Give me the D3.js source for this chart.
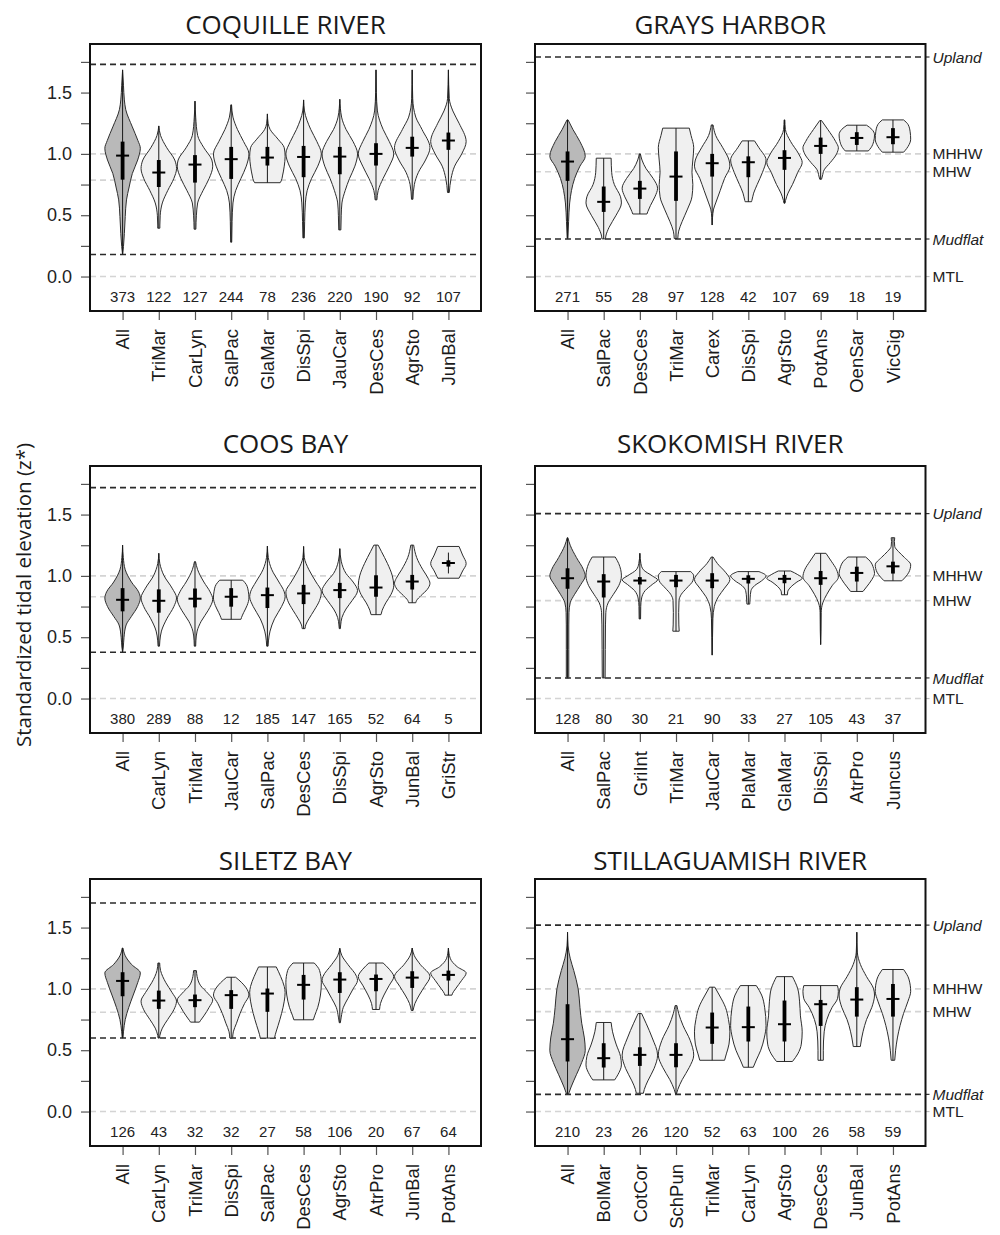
<!DOCTYPE html>
<html><head><meta charset="utf-8">
<script src="https://cdn.jsdelivr.net/npm/d3@7"></script>
<style>body{margin:0;background:#fff}svg{display:block}</style>
</head><body>
<svg id="chart" width="1000" height="1235"></svg>
<script>
// ---------------- DATA ----------------
// shared tidal datums (standardized): MHHW = 1, MTL = 0
const mhhw = 1.0, mtl = 0.0;

// COQUILLE RIVER
const coqCats = ["All","TriMar","CarLyn","SalPac","GlaMar","DisSpi","JauCar","DesCes","AgrSto","JunBal"];
const coqN = [373,122,127,244,78,236,220,190,92,107];
const coqBox = [[0.79,0.986,1.10],[0.73,0.848,0.95],[0.766,0.913,0.99],[0.796,0.957,1.057],[0.905,0.97,1.057],
  [0.81,0.975,1.065],[0.834,0.978,1.057],[0.905,1.0,1.087],[0.978,1.049,1.14],[1.033,1.109,1.174]];
const coqShape = [
  [[1.685,0],[1.56,0.05],[1.44,0.1],[1.36,0.18],[1.22,0.55],[1.11,0.86],[1.046,1.0],[0.95,0.85],[0.84,0.55],[0.73,0.37],[0.625,0.22],[0.49,0.15],[0.35,0.1],[0.245,0.05],[0.177,0]],
  [[1.228,0],[1.15,0.1],[1.05,0.45],[0.95,0.9],[0.88,1.0],[0.8,0.85],[0.7,0.5],[0.6,0.2],[0.5,0.08],[0.42,0.06],[0.394,0.06]],
  [[1.43,0],[1.3,0.04],[1.15,0.15],[1.05,0.5],[0.95,0.95],[0.9,1.0],[0.8,0.8],[0.7,0.45],[0.6,0.15],[0.5,0.08],[0.386,0.05]],
  [[1.40,0.02],[1.3,0.1],[1.2,0.35],[1.1,0.7],[1.0,1.0],[0.9,0.85],[0.8,0.55],[0.7,0.25],[0.6,0.1],[0.45,0.05],[0.28,0.03]],
  [[1.326,0],[1.25,0.04],[1.2,0.15],[1.12,0.6],[1.05,0.95],[0.98,1.0],[0.9,0.95],[0.82,0.85],[0.78,0.78],[0.765,0.72]],
  [[1.44,0],[1.35,0.05],[1.2,0.4],[1.1,0.75],[1.0,1.0],[0.9,0.8],[0.8,0.45],[0.7,0.2],[0.6,0.1],[0.45,0.06],[0.315,0.04]],
  [[1.445,0],[1.3,0.1],[1.2,0.35],[1.1,0.75],[1.0,1.0],[0.9,0.85],[0.8,0.55],[0.7,0.3],[0.6,0.12],[0.5,0.08],[0.38,0.06]],
  [[1.685,0],[1.5,0.02],[1.35,0.08],[1.2,0.4],[1.1,0.75],[1.0,1.0],[0.9,0.75],[0.8,0.4],[0.7,0.12],[0.625,0.05]],
  [[1.685,0],[1.45,0.03],[1.3,0.2],[1.2,0.55],[1.05,1.0],[0.95,0.75],[0.85,0.35],[0.75,0.12],[0.63,0.04]],
  [[1.685,0],[1.45,0.05],[1.35,0.25],[1.25,0.6],[1.1,1.0],[1.0,0.75],[0.9,0.35],[0.8,0.15],[0.685,0.05]]
];
const coqLines = [1.73, 0.18, 0.786]; // Upland, Mudflat, MHW

// GRAYS HARBOR
const grayCats = ["All","SalPac","DesCes","TriMar","Carex","DisSpi","AgrSto","PotAns","OenSar","VicGig"];
const grayN = [271,55,28,97,128,42,107,69,18,19];
const grayBox = [[0.78,0.9375,1.02],[0.527,0.609,0.734],[0.633,0.717,0.78],[0.617,0.815,1.02],[0.815,0.924,1.0],
  [0.81,0.932,0.98],[0.87,0.967,1.03],[1.0,1.065,1.133],[1.073,1.13,1.177],[1.079,1.136,1.21]];
const grayShape = [
  [[1.277,0.03],[1.2,0.3],[1.1,0.7],[0.98,1.0],[0.9,0.7],[0.8,0.4],[0.7,0.22],[0.6,0.12],[0.45,0.06],[0.31,0.02]],
  [[0.965,0.42],[0.85,0.45],[0.75,0.6],[0.65,0.95],[0.6,1.0],[0.5,0.7],[0.4,0.3],[0.33,0.12],[0.307,0.1]],
  [[1.0,0.03],[0.95,0.12],[0.88,0.35],[0.8,0.75],[0.72,1.0],[0.65,0.85],[0.58,0.6],[0.53,0.45],[0.51,0.4]],
  [[1.21,0.75],[1.15,0.85],[1.05,1.0],[0.95,0.95],[0.85,0.9],[0.75,0.95],[0.65,0.9],[0.55,0.65],[0.45,0.35],[0.37,0.15],[0.31,0.1]],
  [[1.236,0.05],[1.15,0.2],[1.05,0.6],[0.95,0.95],[0.9,1.0],[0.8,0.7],[0.7,0.45],[0.6,0.2],[0.55,0.08],[0.48,0.02],[0.42,0]],
  [[1.106,0.35],[1.05,0.6],[0.95,1.0],[0.85,0.8],[0.75,0.5],[0.68,0.3],[0.62,0.2],[0.61,0.18]],
  [[1.277,0.02],[1.2,0.05],[1.1,0.35],[1.0,0.8],[0.93,1.0],[0.85,0.75],[0.75,0.45],[0.68,0.2],[0.62,0.06],[0.598,0.03]],
  [[1.272,0.05],[1.2,0.4],[1.1,0.85],[1.05,1.0],[1.0,0.9],[0.93,0.55],[0.87,0.2],[0.82,0.1],[0.793,0.05]],
  [[1.234,0.55],[1.2,0.85],[1.155,1.0],[1.1,0.95],[1.05,0.8],[1.024,0.65]],
  [[1.277,0.6],[1.24,0.85],[1.18,0.97],[1.12,1.0],[1.06,0.85],[1.03,0.7],[1.014,0.6]]
];
const grayLines = [1.79, 0.306, 0.854];

// COOS BAY
const coosCats = ["All","CarLyn","TriMar","JauCar","SalPac","DesCes","DisSpi","AgrSto","JunBal","GriStr"];
const coosN = [380,289,88,12,185,147,165,52,64,5];
const coosBox = [[0.711,0.805,0.9],[0.7,0.797,0.89],[0.743,0.814,0.897],[0.749,0.83,0.9],[0.738,0.843,0.905],
  [0.77,0.857,0.927],[0.819,0.884,0.943],[0.83,0.905,1.005],[0.889,0.954,1.008],[1.076,1.105,1.127]];
const coosShape = [
  [[1.251,0],[1.15,0.04],[1.05,0.15],[0.95,0.5],[0.87,0.9],[0.82,1.0],[0.75,0.85],[0.67,0.5],[0.6,0.2],[0.5,0.08],[0.42,0.04],[0.378,0]],
  [[1.184,0],[1.1,0.06],[1.0,0.3],[0.9,0.75],[0.82,1.0],[0.75,0.85],[0.65,0.45],[0.55,0.15],[0.47,0.06],[0.427,0.04]],
  [[1.116,0.03],[1.05,0.15],[0.95,0.5],[0.87,0.85],[0.81,1.0],[0.72,0.75],[0.63,0.35],[0.55,0.12],[0.47,0.05],[0.427,0.04]],
  [[0.965,0.65],[0.93,0.85],[0.87,0.97],[0.82,1.0],[0.76,0.9],[0.7,0.7],[0.66,0.58],[0.646,0.55]],
  [[1.243,0],[1.15,0.05],[1.05,0.25],[0.95,0.65],[0.87,0.95],[0.83,1.0],[0.75,0.8],[0.65,0.4],[0.55,0.15],[0.47,0.06],[0.427,0.04]],
  [[1.24,0],[1.15,0.04],[1.05,0.3],[0.95,0.7],[0.87,1.0],[0.8,0.9],[0.72,0.6],[0.65,0.3],[0.6,0.12],[0.57,0.08]],
  [[1.222,0],[1.12,0.08],[1.02,0.35],[0.95,0.75],[0.88,1.0],[0.8,0.7],[0.73,0.35],[0.66,0.12],[0.6,0.05],[0.57,0.03]],
  [[1.251,0.12],[1.2,0.3],[1.1,0.65],[1.0,0.92],[0.92,1.0],[0.85,0.85],[0.78,0.55],[0.72,0.35],[0.684,0.28]],
  [[1.251,0.08],[1.15,0.25],[1.05,0.6],[0.98,0.9],[0.94,1.0],[0.89,0.85],[0.84,0.5],[0.8,0.25],[0.781,0.2]],
  [[1.24,0.6],[1.17,0.8],[1.1,1.0],[1.04,0.8],[0.981,0.6]]
];
const coosWhisk = [null,null,null,null,null,null,null,null,null,[1.02,1.19]];
const coosLines = [1.72, 0.378, 0.83];

// SKOKOMISH RIVER
const skoCats = ["All","SalPac","GriInt","TriMar","JauCar","PlaMar","GlaMar","DisSpi","AtrPro","Juncus"];
const skoN = [128,80,30,21,90,33,27,105,43,37];
const skoBox = [[0.895,0.981,1.062],[0.824,0.954,1.014],[0.93,0.962,0.99],[0.908,0.962,1.008],[0.9,0.962,1.022],
  [0.938,0.976,1.005],[0.94,0.976,1.008],[0.927,0.981,1.04],[0.954,1.024,1.075],[1.019,1.078,1.116]];
const skoShape = [
  [[1.311,0.02],[1.25,0.15],[1.15,0.5],[1.05,0.9],[1.0,1.0],[0.93,0.75],[0.85,0.4],[0.78,0.15],[0.7,0.08],[0.6,0.07],[0.4,0.07],[0.168,0.07]],
  [[1.154,0.65],[1.1,0.85],[1.0,1.0],[0.92,0.85],[0.85,0.55],[0.78,0.25],[0.7,0.12],[0.6,0.1],[0.4,0.09],[0.168,0.08]],
  [[1.184,0],[1.1,0.06],[1.05,0.2],[1.0,0.7],[0.968,1.0],[0.93,0.7],[0.88,0.3],[0.82,0.1],[0.75,0.05],[0.649,0.04]],
  [[1.035,0.83],[1.0,1.0],[0.96,0.95],[0.9,0.6],[0.85,0.3],[0.8,0.17],[0.7,0.15],[0.6,0.16],[0.549,0.18]],
  [[1.154,0.05],[1.1,0.3],[1.03,0.75],[0.97,1.0],[0.9,0.7],[0.83,0.35],[0.75,0.12],[0.65,0.04],[0.5,0.02],[0.354,0]],
  [[1.035,0.6],[1.0,1.0],[0.96,0.75],[0.92,0.35],[0.88,0.15],[0.82,0.1],[0.77,0.08]],
  [[1.04,0.35],[1.01,0.75],[0.98,1.0],[0.95,0.7],[0.9,0.3],[0.87,0.18],[0.846,0.17]],
  [[1.184,0.3],[1.12,0.6],[1.05,0.9],[0.99,1.0],[0.92,0.65],[0.85,0.35],[0.78,0.12],[0.7,0.03],[0.55,0.02],[0.44,0]],
  [[1.154,0.5],[1.12,0.75],[1.06,0.95],[1.02,1.0],[0.97,0.85],[0.91,0.55],[0.873,0.35]],
  [[1.311,0.1],[1.28,0.08],[1.24,0.1],[1.2,0.3],[1.15,0.65],[1.09,1.0],[1.03,0.9],[0.99,0.7],[0.96,0.5]]
];
const skoLines = [1.508, 0.168, 0.798];

// SILETZ BAY
const silCats = ["All","CarLyn","TriMar","DisSpi","SalPac","DesCes","AgrSto","AtrPro","JunBal","PotAns"];
const silN = [126,43,32,32,27,58,106,20,67,64];
const silBox = [[0.94,1.065,1.136],[0.837,0.905,0.986],[0.851,0.908,0.954],[0.837,0.949,0.99],[0.813,0.962,1.003],
  [0.913,1.033,1.114],[0.967,1.076,1.136],[0.981,1.081,1.117],[1.008,1.092,1.144],[1.068,1.114,1.149]];
const silShape = [
  [[1.333,0.02],[1.27,0.15],[1.2,0.5],[1.13,1.0],[1.05,0.85],[0.95,0.6],[0.85,0.35],[0.75,0.15],[0.65,0.05],[0.6,0.02]],
  [[1.211,0.05],[1.15,0.1],[1.05,0.4],[0.97,0.75],[0.9,1.0],[0.83,0.85],[0.75,0.5],[0.68,0.2],[0.62,0.06],[0.599,0.04]],
  [[1.149,0.08],[1.1,0.12],[1.03,0.3],[0.96,0.75],[0.91,1.0],[0.85,0.8],[0.78,0.5],[0.74,0.3],[0.729,0.25]],
  [[1.095,0.25],[1.05,0.6],[0.98,0.95],[0.95,1.0],[0.88,0.75],[0.8,0.5],[0.72,0.3],[0.65,0.12],[0.599,0.08]],
  [[1.179,0.5],[1.1,0.75],[1.02,0.95],[0.97,1.0],[0.9,0.95],[0.8,0.8],[0.7,0.6],[0.63,0.45],[0.599,0.4]],
  [[1.211,0.6],[1.15,0.9],[1.05,1.0],[0.95,0.95],[0.85,0.8],[0.78,0.62],[0.748,0.55]],
  [[1.331,0],[1.27,0.12],[1.2,0.45],[1.1,0.95],[1.07,1.0],[1.0,0.75],[0.92,0.45],[0.85,0.2],[0.77,0.08],[0.724,0.03]],
  [[1.211,0.4],[1.16,0.75],[1.1,1.0],[1.03,0.75],[0.95,0.45],[0.88,0.25],[0.832,0.2]],
  [[1.333,0],[1.27,0.12],[1.2,0.45],[1.1,1.0],[1.02,0.7],[0.95,0.4],[0.88,0.15],[0.824,0.05]],
  [[1.333,0],[1.25,0.1],[1.18,0.5],[1.13,1.0],[1.07,0.75],[1.0,0.4],[0.96,0.22],[0.949,0.2]]
];
const silLines = [1.70, 0.60, 0.81];

// STILLAGUAMISH RIVER
const stiCats = ["All","BolMar","CotCor","SchPun","TriMar","CarLyn","AgrSto","DesCes","JunBal","PotAns"];
const stiN = [210,23,26,120,52,63,100,26,58,59];
const stiBox = [[0.408,0.59,0.875],[0.359,0.435,0.557],[0.372,0.462,0.524],[0.361,0.462,0.557],[0.552,0.685,0.807],
  [0.571,0.688,0.856],[0.571,0.712,0.905],[0.698,0.875,0.91],[0.774,0.913,1.014],[0.774,0.918,1.04]];
const stiShape = [
  [[1.462,0],[1.35,0.03],[1.25,0.15],[1.15,0.35],[1.0,0.6],[0.85,0.7],[0.72,0.8],[0.6,0.95],[0.5,1.0],[0.4,0.8],[0.3,0.5],[0.2,0.2],[0.141,0.05]],
  [[0.726,0.42],[0.65,0.5],[0.55,0.7],[0.45,0.95],[0.38,1.0],[0.3,0.8],[0.258,0.62]],
  [[0.799,0.1],[0.72,0.35],[0.6,0.7],[0.46,1.0],[0.35,0.8],[0.25,0.45],[0.18,0.25],[0.149,0.2]],
  [[0.864,0.05],[0.8,0.15],[0.7,0.4],[0.58,0.8],[0.46,1.0],[0.36,0.75],[0.26,0.35],[0.18,0.1],[0.141,0.02]],
  [[1.014,0.15],[0.95,0.4],[0.85,0.75],[0.75,0.92],[0.65,1.0],[0.55,0.95],[0.47,0.8],[0.418,0.7]],
  [[1.027,0.45],[0.95,0.75],[0.85,0.92],[0.7,1.0],[0.6,0.9],[0.5,0.7],[0.42,0.45],[0.361,0.28]],
  [[1.1,0.45],[1.0,0.75],[0.9,0.85],[0.78,0.9],[0.65,1.0],[0.55,0.95],[0.47,0.75],[0.408,0.45]],
  [[1.027,0.95],[0.98,1.0],[0.92,0.95],[0.85,0.65],[0.75,0.35],[0.65,0.2],[0.5,0.15],[0.418,0.15]],
  [[1.462,0],[1.3,0.03],[1.2,0.2],[1.1,0.55],[1.0,0.95],[0.95,1.0],[0.85,0.85],[0.75,0.55],[0.65,0.35],[0.55,0.22],[0.53,0.2]],
  [[1.158,0.6],[1.08,0.9],[0.98,1.0],[0.9,0.85],[0.8,0.6],[0.7,0.4],[0.6,0.25],[0.5,0.15],[0.418,0.1]]
];
const stiLines = [1.52, 0.14, 0.815];

const yTicks = [0,0.25,0.5,0.75,1.0,1.25,1.5,1.75];
const yLabelTicks = [0,0.5,1.0,1.5];

// ---------------- LAYOUT ----------------
const panels = [
  {title:"COQUILLE RIVER", cats:coqCats, n:coqN, box:coqBox, shape:coqShape, lines:coqLines, col:0, row:0},
  {title:"GRAYS HARBOR", cats:grayCats, n:grayN, box:grayBox, shape:grayShape, lines:grayLines, col:1, row:0},
  {title:"COOS BAY", cats:coosCats, n:coosN, box:coosBox, shape:coosShape, lines:coosLines, whisk:coosWhisk, col:0, row:1},
  {title:"SKOKOMISH RIVER", cats:skoCats, n:skoN, box:skoBox, shape:skoShape, lines:skoLines, col:1, row:1},
  {title:"SILETZ BAY", cats:silCats, n:silN, box:silBox, shape:silShape, lines:silLines, col:0, row:2},
  {title:"STILLAGUAMISH RIVER", cats:stiCats, n:stiN, box:stiBox, shape:stiShape, lines:stiLines, col:1, row:2}
];
const colX = [[90,481],[535,925.5]];
const rowY = [44,466,879];
const boxH = 267;
const titleBase = [33.5,453,869.5];
const numFont = "'Liberation Sans', Arial, sans-serif";
const titleFont = "'Open Sans', sans-serif";

const svg = d3.select("#chart");

panels.forEach(p => {
  const [x0,x1] = colX[p.col];
  const y0 = rowY[p.row], y1 = y0 + boxH;
  const x = d3.scalePoint().domain(p.cats).range([x0,x1]).padding(0.9);
  const y = d3.scaleLinear().domain([-0.281,1.896]).range([y1,y0]);
  const hw = x.step() * 0.49;
  const g = svg.append("g");

  // title
  g.append("text").attr("x",(x0+x1)/2).attr("y",titleBase[p.row])
    .attr("text-anchor","middle").attr("font-family",titleFont).attr("font-size",26)
    .attr("fill","#1a1a1a").text(p.title);

  // reference lines
  const refs = [
    {v:p.lines[0], label:"Upland", dark:true},
    {v:mhhw, label:"MHHW", dark:false},
    {v:p.lines[2], label:"MHW", dark:false},
    {v:p.lines[1], label:"Mudflat", dark:true},
    {v:mtl, label:"MTL", dark:false}
  ];
  refs.forEach(r => {
    g.append("line").attr("x1",x0).attr("x2",x1).attr("y1",y(r.v)).attr("y2",y(r.v))
      .attr("stroke", r.dark ? "#2a2a2a" : "#d4d4d4").attr("stroke-width",1.6)
      .attr("stroke-dasharray","6,4");
  });
  if (p.col === 1) {
    refs.forEach(r => {
      g.append("line").attr("x1",x1).attr("x2",x1+4).attr("y1",y(r.v)).attr("y2",y(r.v))
        .attr("stroke", r.dark ? "#333" : "#bbb").attr("stroke-width",1.2);
      g.append("text").attr("x",x1+7).attr("y",y(r.v)).attr("dy","0.36em")
        .attr("font-family",numFont).attr("font-size",15.5)
        .attr("font-style", r.dark ? "italic" : "normal")
        .attr("fill","#222").text(r.label);
    });
  }

  // violins
  const area = d3.area()
    .y(d => y(d[0]))
    .x0(d => d.cx - d[1]*hw)
    .x1(d => d.cx + d[1]*hw)
    .curve(d3.curveMonotoneY);
  p.cats.forEach((c,i) => {
    const cx = x(c);
    const pts = p.shape[i].map(d => { const o = [d[0], d[1]]; o.cx = cx; return o; });
    g.append("path").attr("d", area(pts))
      .attr("fill", i === 0 ? "#b9b9b9" : "#f0f0f0")
      .attr("stroke","#2e2e2e").attr("stroke-width",1);
    const w = (p.whisk && p.whisk[i]) ? p.whisk[i] : [pts[pts.length-1][0], pts[0][0]];
    g.append("line").attr("x1",cx).attr("x2",cx).attr("y1",y(w[0])).attr("y2",y(w[1]))
      .attr("stroke","#1a1a1a").attr("stroke-width",1);
    const [q1,med,q3] = p.box[i];
    g.append("rect").attr("x",cx-1.9).attr("width",3.8)
      .attr("y",y(q3)).attr("height",y(q1)-y(q3)).attr("fill","#000");
    g.append("line").attr("x1",cx-6.5).attr("x2",cx+6.5).attr("y1",y(med)).attr("y2",y(med))
      .attr("stroke","#000").attr("stroke-width",2);
  });

  // counts
  p.cats.forEach((c,i) => {
    g.append("text").attr("x",x(c)).attr("y",y(-0.165)).attr("dy","0.36em")
      .attr("text-anchor","middle").attr("font-family",numFont).attr("font-size",15)
      .attr("fill","#222").text(p.n[i]);
  });

  // y axis
  const yAxis = d3.axisLeft(y).tickValues(yTicks).tickSize(9).tickPadding(9)
    .tickFormat(v => (p.col === 0 && yLabelTicks.includes(v)) ? d3.format(".1f")(v) : "");
  const ya = g.append("g").attr("transform",`translate(${x0},0)`).call(yAxis);
  ya.select(".domain").remove();
  ya.selectAll(".tick line").attr("stroke","#555").attr("stroke-width",1.2);
  ya.selectAll(".tick text").attr("font-family",numFont).attr("font-size",18).attr("fill","#222");

  // x axis
  const xAxis = d3.axisBottom(x).tickSize(9).tickFormat("");
  const xa = g.append("g").attr("transform",`translate(0,${y1})`).call(xAxis);
  xa.select(".domain").remove();
  xa.selectAll(".tick line").attr("stroke","#555").attr("stroke-width",1.2);
  p.cats.forEach(c => {
    g.append("text").attr("transform",`translate(${x(c)},${y1+18}) rotate(-90)`)
      .attr("dy","0.36em").attr("text-anchor","end")
      .attr("font-family",numFont).attr("font-size",18.5).attr("fill","#1a1a1a").text(c);
  });

  // frame
  g.append("rect").attr("x",x0).attr("y",y0).attr("width",x1-x0).attr("height",boxH)
    .attr("fill","none").attr("stroke","#111").attr("stroke-width",2);
});

// y axis title
svg.append("text").attr("transform","translate(24,595) rotate(-90)")
  .attr("dy","0.35em").attr("text-anchor","middle")
  .attr("font-family",titleFont).attr("font-size",20.5).attr("fill","#1a1a1a")
  .text("Standardized tidal elevation (z*)");
</script>
</body></html>
